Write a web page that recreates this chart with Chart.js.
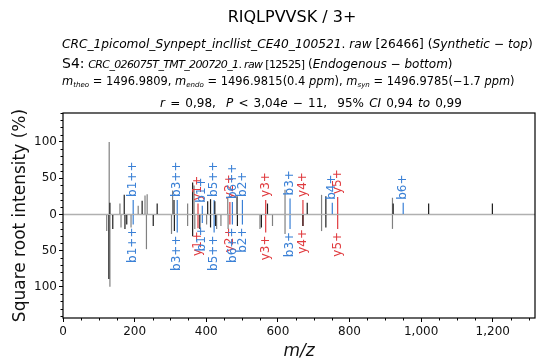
<!DOCTYPE html>
<html>
<head>
<meta charset="utf-8">
<script src="https://cdn.jsdelivr.net/npm/chart.js@4.4.0/dist/chart.umd.min.js"></script>
<style>
  body { margin: 0; background: #fff; }
  #wrap { position: relative; width: 538px; height: 362px; font-family: "DejaVu Sans", sans-serif; color: #000; }
  #wrap canvas { position: absolute; left: 0; top: 0; }
  .hd { position: absolute; white-space: nowrap; line-height: 1; }
  .hd sub { font-size: 0.62em; vertical-align: -0.3em; line-height: 0; }
</style>
</head>
<body>
<div id="wrap">
  <canvas id="chart" width="538" height="362"></canvas>
  <div class="hd" style="left:0; width:584px; text-align:center; top:9px; font-size:16px;">RIQLPVVSK / 3+</div>
  <div class="hd" style="left:62px; top:38px; font-size:12.2px;"><i>CRC_1picomol_Synpept_incllist_CE40_100521</i>. <i>raw</i> [26466] (<i>Synthetic</i> &minus; <i>top</i>)</div>
  <div class="hd" style="left:62px; top:56px; font-size:12px;"><span style="font-size:14px">S4:</span> <span style="font-size:11px; letter-spacing:-0.65px"><i>CRC_026075T_TMT_200720_1</i>. <i>raw</i> [12525]</span> (<i>Endogenous</i> &minus; <i>bottom</i>)</div>
  <div class="hd" style="left:62px; top:76px; font-size:11.45px;"><i>m</i><sub><i>theo</i></sub> = 1496.9809, <i>m</i><sub><i>endo</i></sub> = 1496.9815(0.4 <i>ppm</i>), <i>m</i><sub><i>syn</i></sub> = 1496.9785(&minus;1.7 <i>ppm</i>)</div>
  <div class="hd" style="left:0; width:622px; text-align:center; top:97px; font-size:12px; word-spacing:1.3px;"><i>r</i> = 0,98,&nbsp; <i>P</i> &lt; 3,04<i>e</i> &minus; 11,&nbsp; 95% <i>CI</i> 0,94 <i>to</i> 0,99</div>
</div>
<script>
const mzMax = 1318;
const yMin = -143, yMax = 140;
const xTicks = [0, 200, 400, 600, 800, 1000, 1200];
const yTicks = [-100, -50, 0, 50, 100];

// synthetic spectrum (top)
const synGreyMz  = [129, 159, 210, 229, 235, 306, 348, 366, 460, 620, 722, 920];
const synGreyInt = [100, 15, 12, 26, 28, 33, 15, 40, 23, 34, 27, 23];
const synBlackMz  = [131, 171, 221, 263, 310, 362, 404, 412, 424, 486, 571, 682, 734, 922, 1021, 1199];
const synBlackInt = [16, 27, 19, 15, 20, 44, 18, 21, 18, 25, 15, 16, 25, 15, 15, 15];

// endogenous spectrum (bottom, mirrored)
const endoGreyMz  = [122, 131, 162, 190, 233, 303, 348, 368, 401, 429, 441, 461, 550, 585, 620, 722, 920];
const endoGreyInt = [-23, -100, -18, -18, -48, -27, -16, -20, -14, -20, -16, -20, -20, -16, -27, -23, -20];
const endoBlackMz  = [128, 139, 173, 178, 252, 311, 362, 382, 412, 426, 487, 554, 670, 734];
const endoBlackInt = [-89, -20, -20, -14, -16, -23, -30, -20, -18, -16, -16, -18, -16, -18];

// annotated fragment ions
const ionLabels = ['b1++', 'b3++', 'y1+', 'b1+', 'b5++', 'y2+', 'b6++', 'b2+', 'y3+', 'b3+', 'y4+', 'b4+', 'y5+', 'b6+'];
const ionMz     = [196, 319, 377, 389, 422, 466, 473, 501, 566, 634, 670, 752, 767, 950];
const ionSyn    = [20, 20, 15, 12, 20, 17, 17, 20, 20, 22, 20, 16, 24, 16];
const ionEndo   = [-14, -25, -19, -12, -25, -14, -14, -14, -25, -20, -16, null, -20, null];

const blue = '#3a80d6', red = '#e03a3e';
const ionColor = lab => lab[0] === 'b' ? blue : red;

const pts = (mz, v) => mz.map((m, i) => ({ x: m, y: v[i] }));
const ionPts = v => ionMz.map((m, i) => ({ x: m, y: v[i], label: ionLabels[i] })).filter(p => p.y !== null);

const peak = (data, color) => ({
  data, backgroundColor: color, barThickness: 1.2, grouped: false, borderWidth: 0, inflateAmount: 0
});
const ionSet = data => Object.assign(peak(data, c => ionColor(c.raw.label)), { ions: true });

// rotated ion names at the tips of the annotated peaks
const ionText = {
  id: 'ionText',
  afterDatasetsDraw(chart) {
    const c = chart.ctx;
    chart.data.datasets.forEach((ds, di) => {
      if (!ds.ions) return;
      chart.getDatasetMeta(di).data.forEach((bar, i) => {
        const p = ds.data[i];
        const up = p.y > 0;
        c.save();
        c.translate(bar.x, bar.y + (up ? -3 : 3));
        c.rotate(-Math.PI / 2);
        c.textAlign = up ? 'left' : 'right';
        c.textBaseline = 'middle';
        c.fillStyle = ionColor(p.label);
        c.font = '12px "DejaVu Sans"';
        c.fillText(p.label, 0, 0);
        c.restore();
      });
    });
  }
};

// zero line, axes box and minor ticks
const frame = {
  id: 'frame',
  beforeDatasetsDraw(chart) {
    const { ctx: c, chartArea: a, scales: { y } } = chart;
    const y0 = y.getPixelForValue(0);
    c.save();
    c.strokeStyle = '#b0b0b0';
    c.lineWidth = 1.5;
    c.beginPath();
    c.moveTo(a.left, y0);
    c.lineTo(a.right, y0);
    c.stroke();
    c.restore();
  },
  afterDraw(chart) {
    const { ctx: c, chartArea: a, scales: { x, y } } = chart;
    c.save();
    c.strokeStyle = '#000';
    c.lineWidth = 1;
    c.beginPath();
    for (let v = 50; v < mzMax; v += 50) {
      if (v % 200 === 0) continue;
      const px = Math.round(x.getPixelForValue(v)) + 0.5;
      c.moveTo(px, a.bottom);
      c.lineTo(px, a.bottom + 2.5);
    }
    for (let v = -140; v <= 140; v += 10) {
      if (v % 50 === 0) continue;
      const py = Math.round(y.getPixelForValue(v)) + 0.5;
      c.moveTo(a.left, py);
      c.lineTo(a.left - 2.5, py);
    }
    c.stroke();
    c.lineWidth = 1.2;
    c.strokeRect(a.left, a.top, a.right - a.left, a.bottom - a.top);
    c.restore();
  }
};

const tickFont = { family: 'DejaVu Sans', size: 12 };

new Chart(document.getElementById('chart'), {
  type: 'bar',
  data: {
    datasets: [
      peak(pts(synBlackMz, synBlackInt), '#1e1e1e'),
      peak(pts(endoBlackMz, endoBlackInt), '#1e1e1e'),
      ionSet(ionPts(ionSyn)),
      ionSet(ionPts(ionEndo)),
      peak(pts(synGreyMz, synGreyInt), '#808080'),
      peak(pts(endoGreyMz, endoGreyInt), '#808080')
    ]
  },
  options: {
    responsive: false,
    devicePixelRatio: 1,
    animation: false,
    layout: { padding: { top: 113, right: 3, left: 0, bottom: 0 } },
    plugins: { legend: { display: false }, tooltip: { enabled: false } },
    scales: {
      x: {
        type: 'linear',
        min: 0,
        max: mzMax,
        offset: false,
        afterBuildTicks: s => { s.ticks = xTicks.map(v => ({ value: v })); },
        afterFit: s => { s.height = 44; },
        grid: { offset: false, drawOnChartArea: false, tickLength: 4, tickColor: '#000' },
        border: { display: false },
        ticks: { font: tickFont, color: '#111', padding: 3, maxRotation: 0 },
        title: { display: true, text: 'm/z', color: '#111', font: { family: 'DejaVu Sans', size: 17, style: 'italic' }, padding: { top: 0, bottom: 0 } }
      },
      y: {
        min: yMin,
        max: yMax,
        afterBuildTicks: s => { s.ticks = yTicks.map(v => ({ value: v })); },
        afterFit: s => { s.width = 63; },
        grid: { drawOnChartArea: false, tickLength: 4, tickColor: '#000' },
        border: { display: false },
        ticks: { font: tickFont, color: '#111', padding: 2, callback: v => Math.abs(v) },
        title: { display: true, text: 'Square root intensity (%)', color: '#111', font: { family: 'DejaVu Sans', size: 17 }, padding: { top: 10, bottom: 0 } }
      }
    }
  },
  plugins: [frame, ionText]
});
</script>
</body>
</html>
